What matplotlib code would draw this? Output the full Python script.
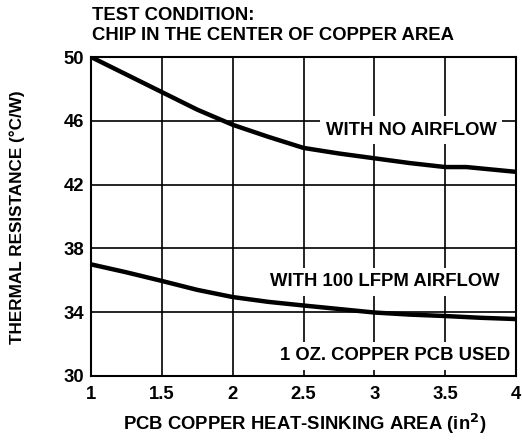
import matplotlib.pyplot as plt

plt.rcParams['font.family'] = ['Liberation Sans', 'DejaVu Sans']
plt.rcParams['font.weight'] = 'bold'

# data
area = [1, 1.25, 1.5, 1.75, 2, 2.25, 2.5, 2.75, 3, 3.25, 3.5, 3.65, 4]
no_airflow = [50, 48.9, 47.8, 46.7, 45.75, 45.0, 44.3, 43.95, 43.65, 43.35, 43.1, 43.1, 42.8]
area_lfpm = [1, 1.25, 1.5, 1.75, 2, 2.25, 2.5, 2.75, 3, 3.25, 3.5, 3.75, 4]
lfpm_100 = [37.0, 36.5, 35.96, 35.4, 34.95, 34.65, 34.42, 34.2, 33.98, 33.85, 33.76, 33.65, 33.57]

xticks = [1, 1.5, 2, 2.5, 3, 3.5, 4]
xtick_labels = ['1', '1.5', '2', '2.5', '3', '3.5', '4']
yticks = [30, 34, 38, 42, 46, 50]

fs = 13.3

fig = plt.figure(figsize=(5.22, 4.43), dpi=100)
ax = fig.add_axes([91 / 522, 1 - 376 / 443, (516 - 91) / 522, (376 - 57) / 443])

ax.plot(area, no_airflow, color='black', lw=3.2, solid_capstyle='butt', zorder=3)
ax.plot(area_lfpm, lfpm_100, color='black', lw=3.2, solid_capstyle='butt', zorder=3)

ax.set_xlim(1, 4)
ax.set_ylim(30, 50)
ax.set_xticks(xticks)
ax.set_xticklabels(xtick_labels)
ax.set_yticks(yticks)
ax.grid(True, color='black', lw=1.2)
ax.set_axisbelow(True)
ax.tick_params(length=0, labelsize=fs)
ax.tick_params(axis='x', pad=7)
ax.tick_params(axis='y', pad=5)
for lbl in ax.get_xticklabels() + ax.get_yticklabels():
    lbl.set_fontweight('bold')
for s in ax.spines.values():
    s.set_linewidth(1.5)

box = dict(facecolor='white', edgecolor='none', pad=4)
ax.text(3.865, 45.4, 'WITH NO AIRFLOW', ha='right', va='center',
        fontsize=fs, fontweight='bold', bbox=box, zorder=2)
ax.text(3.886, 35.9, 'WITH 100 LFPM AIRFLOW', ha='right', va='center',
        fontsize=fs, fontweight='bold', bbox=box, zorder=2)
ax.text(3.957, 31.27, '1 OZ. COPPER PCB USED', ha='right', va='center',
        fontsize=fs, fontweight='bold', bbox=box, zorder=2)

fig.text(92 / 522, 1 - 15 / 443, 'TEST CONDITION:', ha='left', va='center',
         fontsize=fs, fontweight='bold')
fig.text(92 / 522, 1 - 36 / 443, 'CHIP IN THE CENTER OF COPPER AREA', ha='left',
         va='center', fontsize=fs, fontweight='bold')

fig.text(305 / 522, 1 - 424 / 443, 'PCB COPPER HEAT-SINKING AREA (in$^\\mathbf{2}$)',
         ha='center', va='center', fontsize=fs, fontweight='bold')
fig.text(17 / 522, 1 - 217 / 443, 'THERMAL RESISTANCE (°C/W)', ha='center',
         va='center', rotation=90, fontsize=12.3, fontweight='bold')

fig.savefig('out.png', dpi=100)
